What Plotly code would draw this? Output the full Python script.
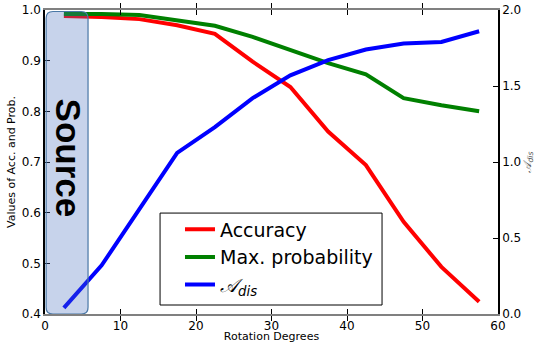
import plotly.graph_objects as go

degrees = [2.5, 7.5, 12.5, 17.5, 22.5, 27.5, 32.5, 37.5, 42.5, 47.5, 52.5, 57.5]
accuracy = [0.988, 0.986, 0.982, 0.970, 0.953, 0.898, 0.848, 0.760, 0.694, 0.582, 0.493, 0.424]
max_prob = [0.992, 0.992, 0.990, 0.979, 0.969, 0.947, 0.921, 0.895, 0.873, 0.826, 0.812, 0.800]
a_dis = [0.04, 0.32, 0.69, 1.06, 1.23, 1.42, 1.57, 1.67, 1.74, 1.78, 1.79, 1.86]

font = "DejaVu Sans"
fig = go.Figure()
fig.add_trace(go.Scatter(x=degrees, y=accuracy, mode="lines", name="Accuracy",
                         line=dict(color="#ff0000", width=4)))
fig.add_trace(go.Scatter(x=degrees, y=max_prob, mode="lines", name="Max. probability",
                         line=dict(color="#008000", width=4)))
fig.add_trace(go.Scatter(x=degrees, y=a_dis, mode="lines", name="<i>𝒜</i><sub><i>dis</i></sub>",
                         line=dict(color="#0000ff", width=4), yaxis="y2"))

# rounded "Source" box
x0, x1, y0, y1 = 0.15, 5.7, 0.4, 0.997
rx, ry = 0.9, 0.0135
path = (f"M {x0+rx},{y0} L {x1-rx},{y0} Q {x1},{y0} {x1},{y0+ry} "
        f"L {x1},{y1-ry} Q {x1},{y1} {x1-rx},{y1} L {x0+rx},{y1} "
        f"Q {x0},{y1} {x0},{y1-ry} L {x0},{y0+ry} Q {x0},{y0} {x0+rx},{y0} Z")
fig.add_shape(type="path", path=path, xref="x", yref="y", layer="above",
              fillcolor="rgba(70,110,190,0.3)", line=dict(color="#4a78a6", width=1.2))
fig.add_annotation(x=3.1, y=0.708, xref="x", yref="y", text="<b>Source</b>", showarrow=False,
                   textangle=90, font=dict(family="Liberation Sans", size=35, color="black"))

# legend frame
fig.add_shape(type="rect", xref="paper", yref="paper", x0=0.254, x1=0.744, y0=0.0296, y1=0.332,
              layer="above", fillcolor="white", line=dict(color="black", width=1))

fig.update_layout(
    width=535, height=343,
    margin=dict(l=45, r=37, t=10, b=29),
    paper_bgcolor="white", plot_bgcolor="white",
    font=dict(family=font, size=12, color="black"),
    legend=dict(x=0.298, y=0.341, xanchor="left", yanchor="top",
                borderwidth=0, bgcolor="rgba(0,0,0,0)",
                font=dict(family=font, size=19, color="black"),
                tracegroupgap=0, itemwidth=30),
    xaxis=dict(range=[0, 60], dtick=10, ticks="inside", ticklen=5, tickcolor="black",
               showline=True, linecolor="#808080", linewidth=1.5, mirror="allticks",
               showgrid=False, zeroline=False, automargin=False,
               title=dict(text="Rotation Degrees", font=dict(size=11), standoff=0)),
    yaxis=dict(range=[0.4, 1.0], dtick=0.1, tickformat=".1f", ticks="inside", ticklen=5,
               tickcolor="black", showline=True, linecolor="black", linewidth=1.5,
               showgrid=False, zeroline=False, automargin=False,
               title=dict(text="Values of Acc. and Prob.", font=dict(size=11), standoff=4)),
    yaxis2=dict(range=[0, 2.0], dtick=0.5, tickformat=".1f", ticks="inside", ticklen=5,
                tickcolor="black", showline=True, linecolor="black", linewidth=1.5,
                overlaying="y", side="right", showgrid=False, zeroline=False, automargin=False,
                title=dict(text="<i>𝒜</i><sub><i>dis</i></sub>", font=dict(size=11, color="#555"), standoff=2)),
)

fig.write_html("out.html", config={"displayModeBar": False},
               post_script="document.body.style.margin='0';")
